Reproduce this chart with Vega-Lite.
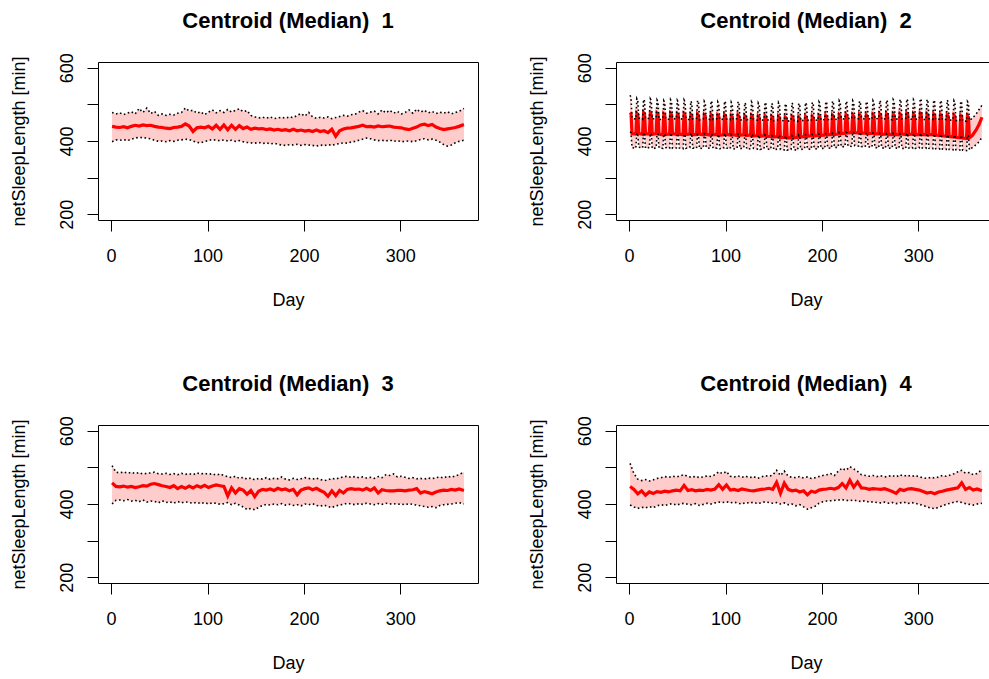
{
"$schema": "https://vega.github.io/schema/vega-lite/v6.json",
"background": "white",
"autosize": {"type": "pad"},
"padding": {"left": 10, "top": 9, "right": 0, "bottom": 0},
"columns": 2,
"spacing": {"row": 205, "column": 138},
"bounds": "flush",
"config": {
 "font": "Liberation Sans",
 "view": {"stroke": "#000", "strokeWidth": 1},
 "axis": {"grid": false, "domain": false, "tickColor": "#000", "tickSize": 11, "tickWidth": 1, "labelColor": "#000", "labelFontSize": 18, "titleColor": "#000", "titleFontSize": 18, "titleFontWeight": "normal", "labelFont": "Liberation Sans", "titleFont": "Liberation Sans"},
 "title": {"fontSize": 22, "fontWeight": "bold", "anchor": "middle", "color": "#000", "baseline": "alphabetic", "offset": 20, "font": "Liberation Sans"}
},
"datasets": {
"p1": [
{"d":1,"m":440,"l":398,"u":478},{"d":5,"m":438,"l":403,"u":474},{"d":9,"m":437,"l":402,"u":477},{"d":13,"m":439,"l":404,"u":472},{"d":17,"m":436,"l":401,"u":476},{"d":21,"m":440,"l":405,"u":480},{"d":25,"m":443,"l":408,"u":474},{"d":29,"m":441,"l":410,"u":489},{"d":33,"m":444,"l":409,"u":478},{"d":37,"m":442,"l":408,"u":490},{"d":41,"m":443,"l":406,"u":475},{"d":45,"m":440,"l":402,"u":481},{"d":49,"m":438,"l":399,"u":470},{"d":53,"m":437,"l":400,"u":474},{"d":57,"m":435,"l":398,"u":470},{"d":61,"m":434,"l":401,"u":473},{"d":65,"m":437,"l":399,"u":471},{"d":69,"m":438,"l":402,"u":476},{"d":73,"m":440,"l":403,"u":478},{"d":77,"m":447,"l":405,"u":490},{"d":81,"m":441,"l":404,"u":482},{"d":85,"m":426,"l":400,"u":484},{"d":89,"m":436,"l":396,"u":476},{"d":93,"m":438,"l":395,"u":480},{"d":97,"m":436,"l":399,"u":472},{"d":101,"m":440,"l":401,"u":479},{"d":105,"m":433,"l":404,"u":485},{"d":109,"m":443,"l":402,"u":477},{"d":113,"m":432,"l":401,"u":483},{"d":117,"m":444,"l":403,"u":478},{"d":121,"m":431,"l":400,"u":486},{"d":125,"m":443,"l":402,"u":479},{"d":129,"m":432,"l":399,"u":484},{"d":133,"m":442,"l":401,"u":488},{"d":137,"m":434,"l":398,"u":480},{"d":141,"m":438,"l":396,"u":483},{"d":145,"m":432,"l":395,"u":470},{"d":149,"m":435,"l":394,"u":466},{"d":153,"m":433,"l":396,"u":463},{"d":157,"m":434,"l":393,"u":465},{"d":161,"m":431,"l":395,"u":462},{"d":165,"m":433,"l":392,"u":466},{"d":169,"m":430,"l":394,"u":461},{"d":173,"m":432,"l":391,"u":463},{"d":177,"m":429,"l":389,"u":465},{"d":181,"m":431,"l":388,"u":462},{"d":185,"m":428,"l":390,"u":466},{"d":189,"m":432,"l":389,"u":464},{"d":193,"m":428,"l":391,"u":470},{"d":197,"m":430,"l":388,"u":475},{"d":201,"m":427,"l":390,"u":468},{"d":205,"m":429,"l":389,"u":478},{"d":209,"m":426,"l":388,"u":466},{"d":213,"m":430,"l":386,"u":462},{"d":217,"m":426,"l":389,"u":465},{"d":221,"m":428,"l":387,"u":463},{"d":225,"m":423,"l":390,"u":466},{"d":229,"m":432,"l":388,"u":461},{"d":233,"m":413,"l":391,"u":464},{"d":237,"m":428,"l":393,"u":467},{"d":241,"m":433,"l":395,"u":470},{"d":245,"m":435,"l":394,"u":468},{"d":249,"m":436,"l":397,"u":472},{"d":253,"m":438,"l":399,"u":473},{"d":257,"m":440,"l":402,"u":479},{"d":261,"m":443,"l":405,"u":483},{"d":265,"m":439,"l":408,"u":476},{"d":269,"m":440,"l":406,"u":479},{"d":273,"m":438,"l":403,"u":482},{"d":277,"m":441,"l":401,"u":474},{"d":281,"m":439,"l":402,"u":485},{"d":285,"m":440,"l":400,"u":477},{"d":289,"m":441,"l":403,"u":484},{"d":293,"m":438,"l":399,"u":476},{"d":297,"m":437,"l":401,"u":481},{"d":301,"m":436,"l":398,"u":474},{"d":305,"m":433,"l":399,"u":478},{"d":309,"m":431,"l":400,"u":485},{"d":313,"m":435,"l":398,"u":476},{"d":317,"m":438,"l":401,"u":487},{"d":321,"m":444,"l":404,"u":479},{"d":325,"m":446,"l":406,"u":484},{"d":329,"m":442,"l":403,"u":477},{"d":333,"m":445,"l":405,"u":481},{"d":337,"m":438,"l":402,"u":475},{"d":341,"m":434,"l":397,"u":479},{"d":345,"m":431,"l":390,"u":476},{"d":349,"m":433,"l":386,"u":480},{"d":353,"m":435,"l":389,"u":474},{"d":357,"m":437,"l":395,"u":478},{"d":361,"m":440,"l":399,"u":481},{"d":366,"m":445,"l":402,"u":489}
],
"p2": [
{"d":1,"m":478,"l":425,"u":525},{"d":2,"m":475,"l":423,"u":519},{"d":3,"m":420,"l":382,"u":462},{"d":7,"m":419,"l":380,"u":460},
{"d":8,"m":476,"l":422,"u":516},{"d":9,"m":473,"l":420,"u":511},{"d":10,"m":421,"l":383,"u":463},{"d":14,"m":418,"l":381,"u":459},
{"d":15,"m":477,"l":423,"u":514},{"d":16,"m":474,"l":421,"u":509},{"d":17,"m":420,"l":380,"u":461},{"d":21,"m":419,"l":382,"u":462},
{"d":22,"m":475,"l":421,"u":515},{"d":23,"m":472,"l":419,"u":510},{"d":24,"m":418,"l":379,"u":460},{"d":28,"m":420,"l":381,"u":463},
{"d":29,"m":476,"l":420,"u":512},{"d":30,"m":473,"l":418,"u":507},{"d":31,"m":419,"l":381,"u":458},{"d":35,"m":417,"l":380,"u":461},
{"d":36,"m":474,"l":419,"u":510},{"d":37,"m":471,"l":417,"u":505},{"d":38,"m":418,"l":382,"u":460},{"d":42,"m":419,"l":380,"u":459},
{"d":43,"m":475,"l":421,"u":513},{"d":44,"m":472,"l":419,"u":508},{"d":45,"m":420,"l":380,"u":462},{"d":49,"m":418,"l":381,"u":460},
{"d":50,"m":473,"l":420,"u":511},{"d":51,"m":470,"l":418,"u":506},{"d":52,"m":419,"l":381,"u":459},{"d":56,"m":417,"l":379,"u":461},
{"d":57,"m":474,"l":419,"u":512},{"d":58,"m":471,"l":417,"u":507},{"d":59,"m":418,"l":380,"u":461},{"d":63,"m":419,"l":382,"u":458},
{"d":64,"m":472,"l":421,"u":509},{"d":65,"m":469,"l":419,"u":504},{"d":66,"m":417,"l":381,"u":460},{"d":70,"m":418,"l":380,"u":462},
{"d":71,"m":473,"l":418,"u":511},{"d":72,"m":470,"l":416,"u":506},{"d":73,"m":419,"l":379,"u":458},{"d":77,"m":417,"l":381,"u":460},
{"d":78,"m":471,"l":420,"u":508},{"d":79,"m":468,"l":418,"u":503},{"d":80,"m":418,"l":382,"u":461},{"d":84,"m":416,"l":380,"u":459},
{"d":85,"m":472,"l":419,"u":510},{"d":86,"m":469,"l":417,"u":505},{"d":87,"m":417,"l":380,"u":459},{"d":91,"m":418,"l":381,"u":461},
{"d":92,"m":470,"l":418,"u":507},{"d":93,"m":467,"l":416,"u":502},{"d":94,"m":416,"l":379,"u":458},{"d":98,"m":417,"l":380,"u":460},
{"d":99,"m":471,"l":420,"u":509},{"d":100,"m":468,"l":418,"u":504},{"d":101,"m":418,"l":381,"u":460},{"d":105,"m":416,"l":379,"u":458},
{"d":106,"m":469,"l":418,"u":506},{"d":107,"m":466,"l":416,"u":501},{"d":108,"m":417,"l":378,"u":459},{"d":112,"m":415,"l":380,"u":461},
{"d":113,"m":470,"l":419,"u":508},{"d":114,"m":467,"l":417,"u":503},{"d":115,"m":416,"l":379,"u":457},{"d":119,"m":417,"l":381,"u":459},
{"d":120,"m":468,"l":417,"u":505},{"d":121,"m":465,"l":415,"u":500},{"d":122,"m":415,"l":378,"u":458},{"d":126,"m":416,"l":379,"u":460},
{"d":127,"m":469,"l":418,"u":507},{"d":128,"m":466,"l":416,"u":502},{"d":129,"m":414,"l":380,"u":459},{"d":133,"m":415,"l":378,"u":457},
{"d":134,"m":467,"l":416,"u":504},{"d":135,"m":464,"l":414,"u":499},{"d":136,"m":413,"l":377,"u":456},{"d":140,"m":414,"l":379,"u":458},
{"d":141,"m":468,"l":417,"u":506},{"d":142,"m":465,"l":415,"u":501},{"d":143,"m":412,"l":378,"u":458},{"d":147,"m":413,"l":377,"u":456},
{"d":148,"m":466,"l":415,"u":503},{"d":149,"m":463,"l":413,"u":498},{"d":150,"m":411,"l":376,"u":455},{"d":154,"m":412,"l":378,"u":457},
{"d":155,"m":467,"l":416,"u":505},{"d":156,"m":464,"l":414,"u":500},{"d":157,"m":409,"l":377,"u":457},{"d":161,"m":410,"l":376,"u":455},
{"d":162,"m":465,"l":414,"u":502},{"d":163,"m":462,"l":412,"u":497},{"d":164,"m":408,"l":375,"u":454},{"d":168,"m":409,"l":377,"u":456},
{"d":169,"m":466,"l":415,"u":504},{"d":170,"m":463,"l":413,"u":499},{"d":171,"m":409,"l":376,"u":456},{"d":175,"m":410,"l":375,"u":454},
{"d":176,"m":465,"l":416,"u":503},{"d":177,"m":462,"l":414,"u":498},{"d":178,"m":411,"l":377,"u":455},{"d":182,"m":412,"l":378,"u":457},
{"d":183,"m":466,"l":417,"u":505},{"d":184,"m":463,"l":415,"u":500},{"d":185,"m":413,"l":378,"u":457},{"d":189,"m":414,"l":377,"u":455},
{"d":190,"m":467,"l":418,"u":506},{"d":191,"m":464,"l":416,"u":501},{"d":192,"m":414,"l":379,"u":458},{"d":196,"m":415,"l":378,"u":456},
{"d":197,"m":468,"l":419,"u":507},{"d":198,"m":465,"l":417,"u":502},{"d":199,"m":415,"l":380,"u":457},{"d":203,"m":416,"l":379,"u":459},
{"d":204,"m":469,"l":420,"u":508},{"d":205,"m":466,"l":418,"u":503},{"d":206,"m":417,"l":381,"u":459},{"d":210,"m":418,"l":380,"u":457},
{"d":211,"m":470,"l":421,"u":509},{"d":212,"m":467,"l":419,"u":504},{"d":213,"m":418,"l":382,"u":460},{"d":217,"m":419,"l":383,"u":458},
{"d":218,"m":471,"l":423,"u":510},{"d":219,"m":468,"l":421,"u":505},{"d":220,"m":420,"l":384,"u":461},{"d":224,"m":421,"l":385,"u":460},
{"d":225,"m":472,"l":424,"u":509},{"d":226,"m":469,"l":422,"u":504},{"d":227,"m":422,"l":386,"u":462},{"d":231,"m":423,"l":385,"u":461},
{"d":232,"m":471,"l":425,"u":510},{"d":233,"m":468,"l":423,"u":505},{"d":234,"m":423,"l":387,"u":463},{"d":238,"m":422,"l":386,"u":461},
{"d":239,"m":472,"l":424,"u":509},{"d":240,"m":469,"l":422,"u":504},{"d":241,"m":421,"l":385,"u":462},{"d":245,"m":422,"l":384,"u":460},
{"d":246,"m":471,"l":423,"u":508},{"d":247,"m":468,"l":421,"u":503},{"d":248,"m":420,"l":384,"u":461},{"d":252,"m":421,"l":383,"u":459},
{"d":253,"m":472,"l":422,"u":510},{"d":254,"m":469,"l":420,"u":505},{"d":255,"m":419,"l":382,"u":460},{"d":259,"m":420,"l":381,"u":462},
{"d":260,"m":473,"l":421,"u":511},{"d":261,"m":470,"l":419,"u":506},{"d":262,"m":418,"l":381,"u":459},{"d":266,"m":419,"l":380,"u":461},
{"d":267,"m":474,"l":420,"u":512},{"d":268,"m":471,"l":418,"u":507},{"d":269,"m":417,"l":380,"u":460},{"d":273,"m":418,"l":381,"u":458},
{"d":274,"m":473,"l":421,"u":513},{"d":275,"m":470,"l":419,"u":508},{"d":276,"m":418,"l":381,"u":461},{"d":280,"m":417,"l":380,"u":459},
{"d":281,"m":474,"l":420,"u":514},{"d":282,"m":471,"l":418,"u":509},{"d":283,"m":419,"l":380,"u":460},{"d":287,"m":418,"l":379,"u":462},
{"d":288,"m":475,"l":421,"u":515},{"d":289,"m":472,"l":419,"u":510},{"d":290,"m":418,"l":381,"u":461},{"d":294,"m":419,"l":380,"u":459},
{"d":295,"m":474,"l":420,"u":513},{"d":296,"m":471,"l":418,"u":508},{"d":297,"m":417,"l":380,"u":459},{"d":301,"m":418,"l":381,"u":461},
{"d":302,"m":475,"l":421,"u":516},{"d":303,"m":472,"l":419,"u":511},{"d":304,"m":418,"l":381,"u":460},{"d":308,"m":417,"l":380,"u":458},
{"d":309,"m":474,"l":420,"u":514},{"d":310,"m":471,"l":418,"u":509},{"d":311,"m":417,"l":380,"u":461},{"d":315,"m":418,"l":379,"u":459},
{"d":316,"m":473,"l":419,"u":512},{"d":317,"m":470,"l":417,"u":507},{"d":318,"m":416,"l":379,"u":459},{"d":322,"m":415,"l":378,"u":460},
{"d":323,"m":472,"l":418,"u":511},{"d":324,"m":469,"l":416,"u":506},{"d":325,"m":414,"l":378,"u":458},{"d":329,"m":413,"l":377,"u":459},
{"d":330,"m":471,"l":417,"u":512},{"d":331,"m":468,"l":415,"u":507},{"d":332,"m":412,"l":377,"u":457},{"d":336,"m":411,"l":376,"u":458},
{"d":337,"m":470,"l":416,"u":510},{"d":338,"m":467,"l":414,"u":505},{"d":339,"m":410,"l":376,"u":456},{"d":343,"m":409,"l":375,"u":455},
{"d":344,"m":469,"l":415,"u":509},{"d":345,"m":466,"l":413,"u":504},{"d":346,"m":408,"l":375,"u":455},{"d":350,"m":407,"l":374,"u":454},
{"d":351,"m":468,"l":416,"u":508},{"d":352,"m":465,"l":414,"u":504},{"d":353,"m":409,"l":376,"u":456},{"d":356,"m":415,"l":382,"u":462},
{"d":360,"m":430,"l":390,"u":474},{"d":363,"m":445,"l":398,"u":486},{"d":366,"m":465,"l":410,"u":498}
],
"p3": [
{"d":1,"m":458,"l":400,"u":505},{"d":5,"m":448,"l":410,"u":487},{"d":9,"m":447,"l":411,"u":485},{"d":13,"m":449,"l":409,"u":488},{"d":17,"m":446,"l":412,"u":484},{"d":21,"m":448,"l":408,"u":487},{"d":25,"m":445,"l":410,"u":483},{"d":29,"m":447,"l":406,"u":486},{"d":33,"m":450,"l":411,"u":482},{"d":37,"m":449,"l":405,"u":484},{"d":41,"m":454,"l":408,"u":485},{"d":45,"m":456,"l":407,"u":487},{"d":49,"m":453,"l":403,"u":483},{"d":53,"m":450,"l":409,"u":482},{"d":57,"m":448,"l":404,"u":484},{"d":61,"m":445,"l":406,"u":481},{"d":65,"m":450,"l":402,"u":483},{"d":69,"m":442,"l":407,"u":480},{"d":73,"m":448,"l":403,"u":484},{"d":77,"m":443,"l":406,"u":481},{"d":81,"m":449,"l":404,"u":483},{"d":85,"m":444,"l":402,"u":480},{"d":89,"m":450,"l":405,"u":485},{"d":93,"m":446,"l":401,"u":482},{"d":97,"m":451,"l":404,"u":484},{"d":101,"m":445,"l":400,"u":481},{"d":105,"m":449,"l":403,"u":483},{"d":109,"m":452,"l":402,"u":479},{"d":113,"m":450,"l":399,"u":482},{"d":117,"m":448,"l":401,"u":478},{"d":121,"m":422,"l":404,"u":475},{"d":125,"m":444,"l":398,"u":472},{"d":129,"m":430,"l":402,"u":476},{"d":133,"m":442,"l":397,"u":470},{"d":137,"m":438,"l":392,"u":473},{"d":141,"m":427,"l":385,"u":468},{"d":145,"m":437,"l":388,"u":471},{"d":149,"m":420,"l":384,"u":466},{"d":153,"m":435,"l":391,"u":470},{"d":157,"m":440,"l":396,"u":468},{"d":161,"m":438,"l":399,"u":472},{"d":165,"m":441,"l":397,"u":467},{"d":169,"m":437,"l":400,"u":470},{"d":173,"m":443,"l":398,"u":469},{"d":177,"m":439,"l":401,"u":474},{"d":181,"m":441,"l":397,"u":468},{"d":185,"m":436,"l":399,"u":466},{"d":189,"m":440,"l":396,"u":470},{"d":193,"m":425,"l":398,"u":467},{"d":197,"m":438,"l":395,"u":469},{"d":201,"m":442,"l":400,"u":472},{"d":205,"m":444,"l":398,"u":470},{"d":209,"m":439,"l":401,"u":468},{"d":213,"m":443,"l":396,"u":471},{"d":217,"m":437,"l":394,"u":467},{"d":221,"m":432,"l":397,"u":464},{"d":225,"m":421,"l":393,"u":466},{"d":229,"m":436,"l":390,"u":470},{"d":233,"m":423,"l":395,"u":468},{"d":237,"m":437,"l":397,"u":472},{"d":241,"m":430,"l":399,"u":474},{"d":245,"m":440,"l":402,"u":476},{"d":249,"m":442,"l":400,"u":473},{"d":253,"m":440,"l":398,"u":475},{"d":257,"m":441,"l":401,"u":472},{"d":261,"m":438,"l":399,"u":474},{"d":265,"m":443,"l":402,"u":471},{"d":269,"m":437,"l":400,"u":473},{"d":273,"m":444,"l":398,"u":470},{"d":277,"m":430,"l":401,"u":475},{"d":281,"m":439,"l":399,"u":472},{"d":285,"m":437,"l":402,"u":480},{"d":289,"m":436,"l":400,"u":478},{"d":293,"m":436,"l":401,"u":482},{"d":297,"m":437,"l":399,"u":474},{"d":301,"m":437,"l":400,"u":476},{"d":305,"m":436,"l":398,"u":473},{"d":309,"m":438,"l":401,"u":470},{"d":313,"m":439,"l":399,"u":472},{"d":317,"m":442,"l":397,"u":469},{"d":321,"m":430,"l":395,"u":470},{"d":325,"m":434,"l":393,"u":468},{"d":329,"m":431,"l":391,"u":471},{"d":333,"m":428,"l":393,"u":469},{"d":337,"m":433,"l":390,"u":472},{"d":341,"m":436,"l":396,"u":474},{"d":345,"m":438,"l":398,"u":471},{"d":349,"m":437,"l":399,"u":476},{"d":353,"m":440,"l":400,"u":473},{"d":357,"m":438,"l":402,"u":477},{"d":361,"m":441,"l":404,"u":480},{"d":366,"m":437,"l":400,"u":488}
],
"p4": [
{"d":1,"m":448,"l":397,"u":511},{"d":5,"m":440,"l":392,"u":483},{"d":9,"m":428,"l":388,"u":468},{"d":13,"m":436,"l":391,"u":464},{"d":17,"m":424,"l":389,"u":467},{"d":21,"m":433,"l":393,"u":463},{"d":25,"m":429,"l":390,"u":466},{"d":29,"m":434,"l":395,"u":470},{"d":33,"m":432,"l":398,"u":472},{"d":37,"m":435,"l":396,"u":475},{"d":41,"m":433,"l":399,"u":473},{"d":45,"m":436,"l":401,"u":476},{"d":49,"m":438,"l":397,"u":474},{"d":53,"m":436,"l":400,"u":477},{"d":57,"m":451,"l":402,"u":480},{"d":61,"m":437,"l":399,"u":475},{"d":65,"m":439,"l":398,"u":473},{"d":69,"m":436,"l":401,"u":476},{"d":73,"m":438,"l":396,"u":472},{"d":77,"m":437,"l":399,"u":474},{"d":81,"m":440,"l":402,"u":477},{"d":85,"m":438,"l":400,"u":475},{"d":89,"m":441,"l":403,"u":480},{"d":93,"m":453,"l":405,"u":488},{"d":97,"m":440,"l":404,"u":483},{"d":101,"m":452,"l":406,"u":489},{"d":105,"m":438,"l":403,"u":476},{"d":109,"m":440,"l":405,"u":474},{"d":113,"m":437,"l":402,"u":477},{"d":117,"m":441,"l":400,"u":473},{"d":121,"m":439,"l":404,"u":476},{"d":125,"m":437,"l":402,"u":472},{"d":129,"m":436,"l":405,"u":475},{"d":133,"m":438,"l":401,"u":470},{"d":137,"m":440,"l":403,"u":474},{"d":141,"m":441,"l":406,"u":477},{"d":145,"m":443,"l":404,"u":476},{"d":149,"m":440,"l":402,"u":479},{"d":153,"m":459,"l":404,"u":492},{"d":157,"m":429,"l":400,"u":478},{"d":161,"m":457,"l":403,"u":490},{"d":165,"m":440,"l":398,"u":476},{"d":169,"m":436,"l":400,"u":473},{"d":173,"m":438,"l":395,"u":472},{"d":177,"m":433,"l":398,"u":475},{"d":181,"m":436,"l":392,"u":471},{"d":185,"m":425,"l":386,"u":474},{"d":189,"m":435,"l":390,"u":470},{"d":193,"m":432,"l":394,"u":472},{"d":197,"m":438,"l":402,"u":475},{"d":201,"m":440,"l":406,"u":478},{"d":205,"m":441,"l":408,"u":480},{"d":209,"m":443,"l":409,"u":483},{"d":213,"m":441,"l":410,"u":478},{"d":217,"m":445,"l":411,"u":490},{"d":221,"m":456,"l":412,"u":498},{"d":225,"m":444,"l":410,"u":492},{"d":229,"m":465,"l":409,"u":502},{"d":233,"m":446,"l":411,"u":496},{"d":237,"m":460,"l":408,"u":489},{"d":241,"m":444,"l":407,"u":480},{"d":245,"m":443,"l":409,"u":478},{"d":249,"m":440,"l":405,"u":476},{"d":253,"m":442,"l":406,"u":478},{"d":257,"m":441,"l":404,"u":475},{"d":261,"m":440,"l":403,"u":477},{"d":265,"m":442,"l":405,"u":474},{"d":269,"m":438,"l":402,"u":476},{"d":273,"m":434,"l":404,"u":478},{"d":277,"m":429,"l":401,"u":474},{"d":281,"m":440,"l":403,"u":480},{"d":285,"m":437,"l":405,"u":476},{"d":289,"m":441,"l":401,"u":479},{"d":293,"m":442,"l":404,"u":475},{"d":297,"m":440,"l":402,"u":478},{"d":301,"m":438,"l":399,"u":474},{"d":305,"m":434,"l":396,"u":472},{"d":309,"m":430,"l":392,"u":470},{"d":313,"m":432,"l":389,"u":473},{"d":317,"m":428,"l":387,"u":471},{"d":321,"m":433,"l":391,"u":474},{"d":325,"m":435,"l":395,"u":478},{"d":329,"m":438,"l":399,"u":476},{"d":333,"m":440,"l":402,"u":479},{"d":337,"m":442,"l":405,"u":483},{"d":341,"m":444,"l":407,"u":488},{"d":345,"m":458,"l":404,"u":492},{"d":349,"m":440,"l":401,"u":484},{"d":353,"m":445,"l":399,"u":486},{"d":357,"m":438,"l":397,"u":480},{"d":361,"m":441,"l":400,"u":483},{"d":366,"m":436,"l":402,"u":494}
]
},
"concat": [
{"title": "Centroid (Median)\u00a0 1", "width": 380, "height": 158, "data": {"name": "p1"},
 "encoding": {"x": {"field": "d", "type": "quantitative", "scale": {"domain": [-13.6, 380.6], "nice": false, "zero": false}, "axis": {"title": "Day", "values": [0,100,200,300], "labelBaseline": "alphabetic", "labelPadding": 30, "labelFlush": false, "labelOverlap": false, "titleX": 190, "titleY": 85, "titleAlign": "center", "titleBaseline": "alphabetic"}}},
 "layer": [
  {"mark": {"type": "area", "color": "#ffcccc"}, "encoding": {"y": {"field": "l", "type": "quantitative", "scale": {"domain": [184, 616], "nice": false, "zero": false}, "axis": {"title": "netSleepLength [min]", "values": [200,300,400,500,600], "labelExpr": "datum.value % 200 == 0 ? datum.label : ''", "labelAngle": 270, "labelAlign": "center", "labelBaseline": "alphabetic", "labelPadding": 15, "labelFlush": false, "labelOverlap": false, "titleAngle": 270, "titleX": -73.5, "titleY": 79, "titleAlign": "center", "titleBaseline": "alphabetic"}}, "y2": {"field": "u"}}},
  {"mark": {"type": "line", "color": "#ff0000", "strokeWidth": 3.2}, "encoding": {"y": {"field": "m", "type": "quantitative", "scale": {"domain": [184, 616], "nice": false, "zero": false}, "axis": {"title": "netSleepLength [min]", "values": [200,300,400,500,600], "labelExpr": "datum.value % 200 == 0 ? datum.label : ''", "labelAngle": 270, "labelAlign": "center", "labelBaseline": "alphabetic", "labelPadding": 15, "labelFlush": false, "labelOverlap": false, "titleAngle": 270, "titleX": -73.5, "titleY": 79, "titleAlign": "center", "titleBaseline": "alphabetic"}}}},
  {"mark": {"type": "line", "color": "#000", "strokeWidth": 1.6, "strokeDash": [1.6, 2.6]}, "encoding": {"y": {"field": "u", "type": "quantitative", "scale": {"domain": [184, 616], "nice": false, "zero": false}, "axis": {"title": "netSleepLength [min]", "values": [200,300,400,500,600], "labelExpr": "datum.value % 200 == 0 ? datum.label : ''", "labelAngle": 270, "labelAlign": "center", "labelBaseline": "alphabetic", "labelPadding": 15, "labelFlush": false, "labelOverlap": false, "titleAngle": 270, "titleX": -73.5, "titleY": 79, "titleAlign": "center", "titleBaseline": "alphabetic"}}}},
  {"mark": {"type": "line", "color": "#000", "strokeWidth": 1.6, "strokeDash": [1.6, 2.6]}, "encoding": {"y": {"field": "l", "type": "quantitative", "scale": {"domain": [184, 616], "nice": false, "zero": false}, "axis": {"title": "netSleepLength [min]", "values": [200,300,400,500,600], "labelExpr": "datum.value % 200 == 0 ? datum.label : ''", "labelAngle": 270, "labelAlign": "center", "labelBaseline": "alphabetic", "labelPadding": 15, "labelFlush": false, "labelOverlap": false, "titleAngle": 270, "titleX": -73.5, "titleY": 79, "titleAlign": "center", "titleBaseline": "alphabetic"}}}}
 ]},
{"title": "Centroid (Median)\u00a0 2", "width": 380, "height": 158, "data": {"name": "p2"},
 "encoding": {"x": {"field": "d", "type": "quantitative", "scale": {"domain": [-13.6, 380.6], "nice": false, "zero": false}, "axis": {"title": "Day", "values": [0,100,200,300], "labelBaseline": "alphabetic", "labelPadding": 30, "labelFlush": false, "labelOverlap": false, "titleX": 190, "titleY": 85, "titleAlign": "center", "titleBaseline": "alphabetic"}}},
 "layer": [
  {"mark": {"type": "area", "color": "#ffcccc"}, "encoding": {"y": {"field": "l", "type": "quantitative", "scale": {"domain": [184, 616], "nice": false, "zero": false}, "axis": {"title": "netSleepLength [min]", "values": [200,300,400,500,600], "labelExpr": "datum.value % 200 == 0 ? datum.label : ''", "labelAngle": 270, "labelAlign": "center", "labelBaseline": "alphabetic", "labelPadding": 15, "labelFlush": false, "labelOverlap": false, "titleAngle": 270, "titleX": -73.5, "titleY": 79, "titleAlign": "center", "titleBaseline": "alphabetic"}}, "y2": {"field": "u"}}},
  {"mark": {"type": "line", "color": "#ff0000", "strokeWidth": 3.2}, "encoding": {"y": {"field": "m", "type": "quantitative", "scale": {"domain": [184, 616], "nice": false, "zero": false}, "axis": {"title": "netSleepLength [min]", "values": [200,300,400,500,600], "labelExpr": "datum.value % 200 == 0 ? datum.label : ''", "labelAngle": 270, "labelAlign": "center", "labelBaseline": "alphabetic", "labelPadding": 15, "labelFlush": false, "labelOverlap": false, "titleAngle": 270, "titleX": -73.5, "titleY": 79, "titleAlign": "center", "titleBaseline": "alphabetic"}}}},
  {"mark": {"type": "line", "color": "#000", "strokeWidth": 1.6, "strokeDash": [1.6, 2.6]}, "encoding": {"y": {"field": "u", "type": "quantitative", "scale": {"domain": [184, 616], "nice": false, "zero": false}, "axis": {"title": "netSleepLength [min]", "values": [200,300,400,500,600], "labelExpr": "datum.value % 200 == 0 ? datum.label : ''", "labelAngle": 270, "labelAlign": "center", "labelBaseline": "alphabetic", "labelPadding": 15, "labelFlush": false, "labelOverlap": false, "titleAngle": 270, "titleX": -73.5, "titleY": 79, "titleAlign": "center", "titleBaseline": "alphabetic"}}}},
  {"mark": {"type": "line", "color": "#000", "strokeWidth": 1.6, "strokeDash": [1.6, 2.6]}, "encoding": {"y": {"field": "l", "type": "quantitative", "scale": {"domain": [184, 616], "nice": false, "zero": false}, "axis": {"title": "netSleepLength [min]", "values": [200,300,400,500,600], "labelExpr": "datum.value % 200 == 0 ? datum.label : ''", "labelAngle": 270, "labelAlign": "center", "labelBaseline": "alphabetic", "labelPadding": 15, "labelFlush": false, "labelOverlap": false, "titleAngle": 270, "titleX": -73.5, "titleY": 79, "titleAlign": "center", "titleBaseline": "alphabetic"}}}}
 ]},
{"title": "Centroid (Median)\u00a0 3", "width": 380, "height": 158, "data": {"name": "p3"},
 "encoding": {"x": {"field": "d", "type": "quantitative", "scale": {"domain": [-13.6, 380.6], "nice": false, "zero": false}, "axis": {"title": "Day", "values": [0,100,200,300], "labelBaseline": "alphabetic", "labelPadding": 30, "labelFlush": false, "labelOverlap": false, "titleX": 190, "titleY": 85, "titleAlign": "center", "titleBaseline": "alphabetic"}}},
 "layer": [
  {"mark": {"type": "area", "color": "#ffcccc"}, "encoding": {"y": {"field": "l", "type": "quantitative", "scale": {"domain": [184, 616], "nice": false, "zero": false}, "axis": {"title": "netSleepLength [min]", "values": [200,300,400,500,600], "labelExpr": "datum.value % 200 == 0 ? datum.label : ''", "labelAngle": 270, "labelAlign": "center", "labelBaseline": "alphabetic", "labelPadding": 15, "labelFlush": false, "labelOverlap": false, "titleAngle": 270, "titleX": -73.5, "titleY": 79, "titleAlign": "center", "titleBaseline": "alphabetic"}}, "y2": {"field": "u"}}},
  {"mark": {"type": "line", "color": "#ff0000", "strokeWidth": 3.2}, "encoding": {"y": {"field": "m", "type": "quantitative", "scale": {"domain": [184, 616], "nice": false, "zero": false}, "axis": {"title": "netSleepLength [min]", "values": [200,300,400,500,600], "labelExpr": "datum.value % 200 == 0 ? datum.label : ''", "labelAngle": 270, "labelAlign": "center", "labelBaseline": "alphabetic", "labelPadding": 15, "labelFlush": false, "labelOverlap": false, "titleAngle": 270, "titleX": -73.5, "titleY": 79, "titleAlign": "center", "titleBaseline": "alphabetic"}}}},
  {"mark": {"type": "line", "color": "#000", "strokeWidth": 1.6, "strokeDash": [1.6, 2.6]}, "encoding": {"y": {"field": "u", "type": "quantitative", "scale": {"domain": [184, 616], "nice": false, "zero": false}, "axis": {"title": "netSleepLength [min]", "values": [200,300,400,500,600], "labelExpr": "datum.value % 200 == 0 ? datum.label : ''", "labelAngle": 270, "labelAlign": "center", "labelBaseline": "alphabetic", "labelPadding": 15, "labelFlush": false, "labelOverlap": false, "titleAngle": 270, "titleX": -73.5, "titleY": 79, "titleAlign": "center", "titleBaseline": "alphabetic"}}}},
  {"mark": {"type": "line", "color": "#000", "strokeWidth": 1.6, "strokeDash": [1.6, 2.6]}, "encoding": {"y": {"field": "l", "type": "quantitative", "scale": {"domain": [184, 616], "nice": false, "zero": false}, "axis": {"title": "netSleepLength [min]", "values": [200,300,400,500,600], "labelExpr": "datum.value % 200 == 0 ? datum.label : ''", "labelAngle": 270, "labelAlign": "center", "labelBaseline": "alphabetic", "labelPadding": 15, "labelFlush": false, "labelOverlap": false, "titleAngle": 270, "titleX": -73.5, "titleY": 79, "titleAlign": "center", "titleBaseline": "alphabetic"}}}}
 ]},
{"title": "Centroid (Median)\u00a0 4", "width": 380, "height": 158, "data": {"name": "p4"},
 "encoding": {"x": {"field": "d", "type": "quantitative", "scale": {"domain": [-13.6, 380.6], "nice": false, "zero": false}, "axis": {"title": "Day", "values": [0,100,200,300], "labelBaseline": "alphabetic", "labelPadding": 30, "labelFlush": false, "labelOverlap": false, "titleX": 190, "titleY": 85, "titleAlign": "center", "titleBaseline": "alphabetic"}}},
 "layer": [
  {"mark": {"type": "area", "color": "#ffcccc"}, "encoding": {"y": {"field": "l", "type": "quantitative", "scale": {"domain": [184, 616], "nice": false, "zero": false}, "axis": {"title": "netSleepLength [min]", "values": [200,300,400,500,600], "labelExpr": "datum.value % 200 == 0 ? datum.label : ''", "labelAngle": 270, "labelAlign": "center", "labelBaseline": "alphabetic", "labelPadding": 15, "labelFlush": false, "labelOverlap": false, "titleAngle": 270, "titleX": -73.5, "titleY": 79, "titleAlign": "center", "titleBaseline": "alphabetic"}}, "y2": {"field": "u"}}},
  {"mark": {"type": "line", "color": "#ff0000", "strokeWidth": 3.2}, "encoding": {"y": {"field": "m", "type": "quantitative", "scale": {"domain": [184, 616], "nice": false, "zero": false}, "axis": {"title": "netSleepLength [min]", "values": [200,300,400,500,600], "labelExpr": "datum.value % 200 == 0 ? datum.label : ''", "labelAngle": 270, "labelAlign": "center", "labelBaseline": "alphabetic", "labelPadding": 15, "labelFlush": false, "labelOverlap": false, "titleAngle": 270, "titleX": -73.5, "titleY": 79, "titleAlign": "center", "titleBaseline": "alphabetic"}}}},
  {"mark": {"type": "line", "color": "#000", "strokeWidth": 1.6, "strokeDash": [1.6, 2.6]}, "encoding": {"y": {"field": "u", "type": "quantitative", "scale": {"domain": [184, 616], "nice": false, "zero": false}, "axis": {"title": "netSleepLength [min]", "values": [200,300,400,500,600], "labelExpr": "datum.value % 200 == 0 ? datum.label : ''", "labelAngle": 270, "labelAlign": "center", "labelBaseline": "alphabetic", "labelPadding": 15, "labelFlush": false, "labelOverlap": false, "titleAngle": 270, "titleX": -73.5, "titleY": 79, "titleAlign": "center", "titleBaseline": "alphabetic"}}}},
  {"mark": {"type": "line", "color": "#000", "strokeWidth": 1.6, "strokeDash": [1.6, 2.6]}, "encoding": {"y": {"field": "l", "type": "quantitative", "scale": {"domain": [184, 616], "nice": false, "zero": false}, "axis": {"title": "netSleepLength [min]", "values": [200,300,400,500,600], "labelExpr": "datum.value % 200 == 0 ? datum.label : ''", "labelAngle": 270, "labelAlign": "center", "labelBaseline": "alphabetic", "labelPadding": 15, "labelFlush": false, "labelOverlap": false, "titleAngle": 270, "titleX": -73.5, "titleY": 79, "titleAlign": "center", "titleBaseline": "alphabetic"}}}}
 ]}
]
}
